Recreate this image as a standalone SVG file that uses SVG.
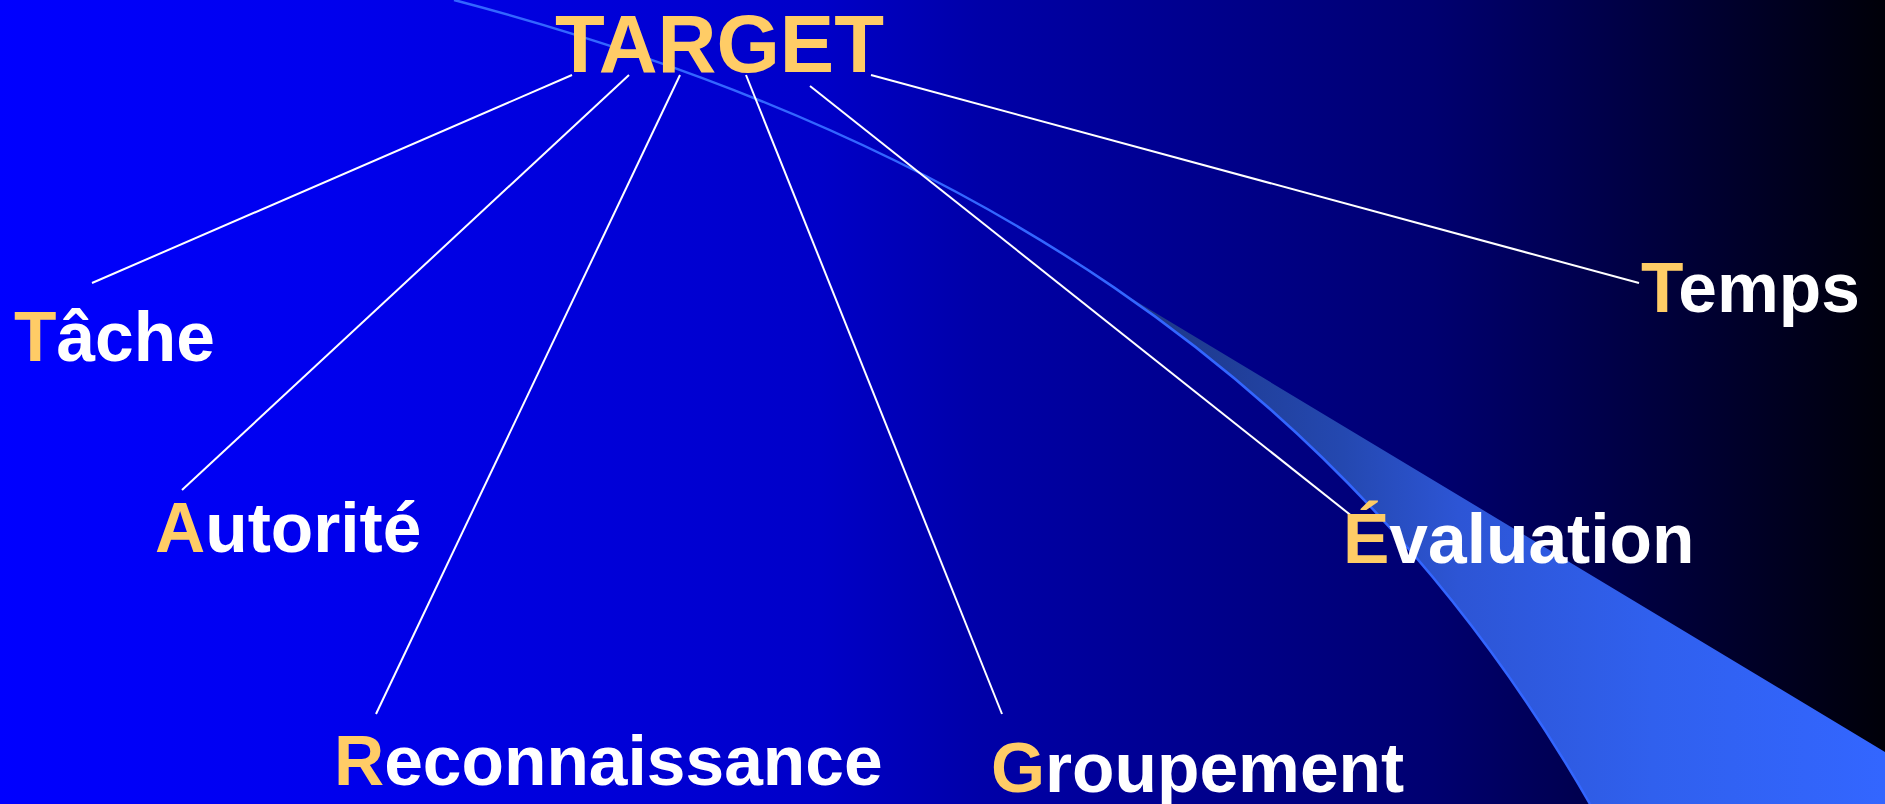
<svg xmlns="http://www.w3.org/2000/svg" width="1885" height="804" viewBox="0 0 1885 804">
  <defs>
    <linearGradient id="bg" x1="0" y1="0" x2="1885" y2="0" gradientUnits="userSpaceOnUse">
      <stop offset="0" stop-color="#0000FF"/>
      <stop offset="0.17" stop-color="#0000EE"/>
      <stop offset="0.435" stop-color="#0000C8"/>
      <stop offset="0.52" stop-color="#0000A8"/>
      <stop offset="0.76" stop-color="#000070"/>
      <stop offset="0.85" stop-color="#00004A"/>
      <stop offset="1" stop-color="#000008"/>
    </linearGradient>
    <linearGradient id="swoosh" x1="1110" y1="0" x2="1885" y2="0" gradientUnits="userSpaceOnUse">
      <stop offset="0" stop-color="#1C3480"/>
      <stop offset="0.3" stop-color="#2448B0"/>
      <stop offset="0.45" stop-color="#2D55D5"/>
      <stop offset="0.7" stop-color="#3060EE"/>
      <stop offset="1" stop-color="#3366FF"/>
    </linearGradient>
    <style>
      .lbl { font-family: "Liberation Sans", Arial, sans-serif; font-weight: bold; font-size: 69.5px; fill: #FFFFFF; }
      .title { font-size: 81.5px; fill: #FFCC66; }
      .ini { fill: #FFCC66; }
      .conn { stroke: #FFFFFF; stroke-width: 2; fill: none; }
    </style>
  </defs>

  <rect x="0" y="0" width="1885" height="804" fill="url(#bg)"/>

  <g id="decor">
    <path d="M1114,288 C1305,418 1465,586.5 1590,804 L1885,804 L1885,752 Z" fill="url(#swoosh)"/>
    <path d="M454,0 C950,130 1340,369 1590,804" fill="none" stroke="#3366FF" stroke-width="2.5"/>
  </g>

  <g id="connectors">
    <line class="conn" x1="572" y1="75" x2="92" y2="283"/>
    <line class="conn" x1="629" y1="75" x2="182" y2="490"/>
    <line class="conn" x1="680" y1="75" x2="376" y2="714"/>
    <line class="conn" x1="746" y1="75" x2="1002" y2="714"/>
    <line class="conn" x1="810" y1="86" x2="1353" y2="517"/>
    <line class="conn" x1="871" y1="75" x2="1639" y2="283"/>
  </g>

  <g id="target"><text class="lbl title" x="555" y="72">TARGET</text></g>
  <g id="tache"><text class="lbl" x="14" y="361"><tspan class="ini">T</tspan>âche</text></g>
  <g id="autorite"><text class="lbl" x="155" y="552"><tspan class="ini">A</tspan>utorité</text></g>
  <g id="reconnaissance"><text class="lbl" x="334" y="785"><tspan class="ini">R</tspan>econnaissance</text></g>
  <g id="groupement"><text class="lbl" x="991" y="792"><tspan class="ini">G</tspan>roupement</text></g>
  <g id="evaluation"><text class="lbl" x="1343" y="563"><tspan class="ini">É</tspan>valuation</text></g>
  <g id="temps"><text class="lbl" x="1641" y="312"><tspan class="ini">T</tspan>emps</text></g>
</svg>
